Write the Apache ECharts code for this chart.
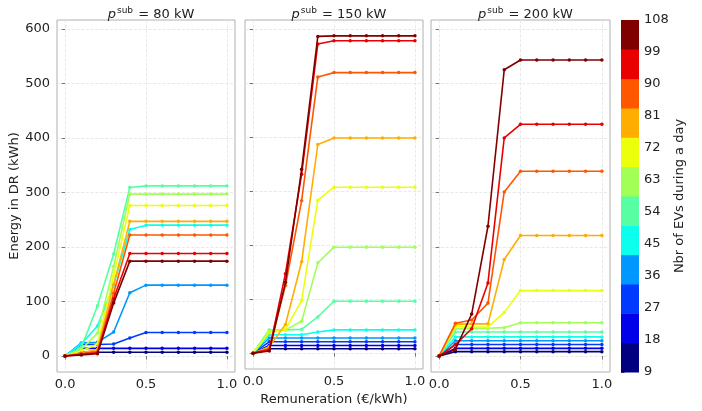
<!DOCTYPE html>
<html><head><meta charset="utf-8">
<script src="https://cdn.jsdelivr.net/npm/echarts@6/dist/echarts.min.js"></script>
<style>html,body{margin:0;padding:0;background:#fff}#c{width:702px;height:411px}</style>
</head><body><div id="c"></div>
<script>
// Remuneration values (x)
const X = [0.0, 0.1, 0.2, 0.3, 0.4, 0.5, 0.6, 0.7, 0.8, 0.9, 1.0];
// Number of EVs per day (one line each), and their colours (jet)
const EV_COUNTS = [9, 18, 27, 36, 45, 54, 63, 72, 81, 90, 99, 108];
const EV_COLORS = ['#000080','#0000e9','#003aff','#0097ff','#0bffec','#56ffa1','#a1ff56','#ecff0b','#ffad00','#ff5700','#e90000','#800000'];
// Panel titles (p_sub in kW)
const P_SUB = ['80', '150', '200'];
// Ticks
const Y_TICKS = [0, 100, 200, 300, 400, 500, 600];
const X_TICKS = [0.0, 0.5, 1.0];

// Energy in DR (kWh), one row per EV count, p_sub = 80 kW
const P80 = [
  [0, 7, 7, 7, 7, 7, 7, 7, 7, 7, 7],
  [0, 14, 14, 14, 14, 14, 14, 14, 14, 14, 14],
  [0, 21, 21, 22, 33, 43, 43, 43, 43, 43, 43],
  [0, 24, 25, 44, 116, 130, 130, 130, 130, 130, 130],
  [0, 22, 55, 130, 232, 240, 240, 240, 240, 240, 240],
  [0, 15, 92, 187, 309, 312, 312, 312, 312, 312, 312],
  [0, 12, 42, 164, 297, 297, 297, 297, 297, 297, 297],
  [0, 9, 22, 147, 276, 276, 276, 276, 276, 276, 276],
  [0, 6, 12, 131, 247, 247, 247, 247, 247, 247, 247],
  [0, 4, 8, 115, 222, 222, 222, 222, 222, 222, 222],
  [0, 3, 6, 105, 188, 188, 188, 188, 188, 188, 188],
  [0, 2, 4, 97, 174, 174, 174, 174, 174, 174, 174]
];
// p_sub = 150 kW
const P150 = [
  [0, 8, 8, 8, 8, 8, 8, 8, 8, 8, 8],
  [0, 14, 14, 14, 14, 14, 14, 14, 14, 14, 14],
  [0, 21, 21, 21, 21, 21, 21, 21, 21, 21, 21],
  [0, 28, 28, 28, 28, 28, 28, 28, 28, 28, 28],
  [0, 34, 34, 34, 39, 43, 43, 43, 43, 43, 43],
  [0, 43, 43, 44, 67, 96, 96, 96, 96, 96, 96],
  [0, 43, 43, 59, 167, 196, 196, 196, 196, 196, 196],
  [0, 38, 44, 97, 283, 307, 307, 307, 307, 307, 307],
  [0, 12, 53, 169, 386, 398, 398, 398, 398, 398, 398],
  [0, 8, 125, 282, 511, 519, 519, 519, 519, 519, 519],
  [0, 6, 147, 331, 572, 578, 578, 578, 578, 578, 578],
  [0, 4, 131, 340, 586, 587, 587, 587, 587, 587, 587]
];
// p_sub = 200 kW
const P200 = [
  [0, 8, 8, 8, 8, 8, 8, 8, 8, 8, 8],
  [0, 14, 14, 14, 14, 14, 14, 14, 14, 14, 14],
  [0, 21, 21, 21, 21, 21, 21, 21, 21, 21, 21],
  [0, 28, 28, 28, 28, 28, 28, 28, 28, 28, 28],
  [0, 35, 35, 35, 35, 35, 35, 35, 35, 35, 35],
  [0, 44, 44, 44, 44, 44, 44, 44, 44, 44, 44],
  [0, 50, 50, 51, 52, 61, 61, 61, 61, 61, 61],
  [0, 54, 53, 53, 80, 120, 120, 120, 120, 120, 120],
  [0, 58, 59, 59, 177, 221, 221, 221, 221, 221, 221],
  [0, 60, 66, 97, 301, 339, 339, 339, 339, 339, 339],
  [0, 21, 50, 134, 400, 425, 425, 425, 425, 425, 425],
  [0, 12, 77, 238, 525, 543, 543, 543, 543, 543, 543]
];
const PANELS = [P80, P150, P200];

const FONT = 'DejaVu Sans';
const TXT = '#222';
const GRIDS = [
  {left: 57, top: 20, width: 178, height: 352},
  {left: 245, top: 20, width: 178, height: 352},
  {left: 431, top: 20, width: 179, height: 352}
];

const chart = echarts.init(document.getElementById('c'), null, {renderer: 'canvas'});

const grid = GRIDS.map(g => Object.assign({show: true, borderColor: '#b0b0b0', borderWidth: 1, backgroundColor: 'transparent', containLabel: false}, g));
grid.push({left: 621, top: 20, width: 18, height: 352, show: false});

const xAxis = GRIDS.map((g, p) => ({
  type: 'value', gridIndex: p, min: -0.05, max: 1.05,
  axisLine: {show: false},
  axisTick: {show: true, customValues: X_TICKS, length: 3.5, lineStyle: {color: '#555', width: 0.8}},
  axisLabel: {show: true, customValues: X_TICKS, margin: 6, fontFamily: FONT, fontSize: 13, color: TXT,
    formatter: v => v.toFixed(1)},
  splitLine: {show: true, lineStyle: {color: '#e3e3e3', type: 'dashed', width: 0.8}},
  name: p === 1 ? 'Remuneration (€/kWh)' : '',
  nameLocation: 'middle', nameGap: 24,
  nameTextStyle: {fontFamily: FONT, fontSize: 13, color: TXT}
}));
xAxis.push({type: 'value', gridIndex: 3, min: 0, max: 1, show: false});

const yAxis = GRIDS.map((g, p) => ({
  type: 'value', gridIndex: p, min: -29.35, max: 616.35,
  axisLine: {show: false},
  axisTick: {show: true, customValues: Y_TICKS, length: 3.5, lineStyle: {color: '#555', width: 0.8}},
  axisLabel: {show: p === 0, customValues: Y_TICKS, margin: 7, fontFamily: FONT, fontSize: 13, color: TXT},
  splitLine: {show: true, lineStyle: {color: '#e3e3e3', type: 'dashed', width: 0.8}},
  name: p === 0 ? 'Energy in DR (kWh)' : '',
  nameLocation: 'middle', nameGap: 27,
  nameTextStyle: {fontFamily: FONT, fontSize: 13, color: TXT}
}));
yAxis.push({
  type: 'value', gridIndex: 3, min: 9, max: 108, position: 'right',
  axisLine: {show: false},
  axisTick: {show: true, customValues: EV_COUNTS, length: 3.5, lineStyle: {color: '#222', width: 0.8}},
  axisLabel: {show: true, customValues: EV_COUNTS, margin: 5, fontFamily: FONT, fontSize: 13, color: TXT},
  splitLine: {show: false},
  name: 'Nbr of EVs during a day', nameLocation: 'middle', nameGap: 34, nameRotate: 90,
  nameTextStyle: {fontFamily: FONT, fontSize: 13, color: TXT}
});

const series = [];
PANELS.forEach((panel, p) => {
  panel.forEach((row, i) => {
    series.push({
      type: 'line', xAxisIndex: p, yAxisIndex: p,
      data: X.map((x, k) => [x, row[k]]),
      symbol: 'circle', symbolSize: 3.5, showSymbol: true,
      lineStyle: {color: EV_COLORS[i], width: 1.6},
      itemStyle: {color: EV_COLORS[i]},
      emphasis: {disabled: true},
      animation: false, z: 2 + i
    });
  });
});

const STEP = (EV_COUNTS[EV_COUNTS.length - 1] - EV_COUNTS[0]) / EV_COUNTS.length;
series.push({
  type: 'custom', xAxisIndex: 3, yAxisIndex: 3,
  data: EV_COUNTS.map((v, i) => [i]),
  renderItem: (params, api) => {
    const i = api.value(0);
    const lo = EV_COUNTS[0] + i * STEP, hi = lo + STEP;
    const a = api.coord([0, lo]), b = api.coord([1, hi]);
    return {type: 'rect', shape: {x: a[0], y: b[1], width: b[0] - a[0], height: a[1] - b[1] + 0.5},
      style: {fill: EV_COLORS[i]}};
  },
  animation: false, silent: true
});

const title = GRIDS.map((g, p) => ({
  text: '{i|p}{s|sub}{n| = ' + P_SUB[p] + ' kW}',
  left: g.left + g.width / 2, textAlign: 'center', top: 0,
  textStyle: {
    fontWeight: 'normal',
    rich: {
      i: {fontFamily: FONT, fontSize: 13, fontStyle: 'italic', fontWeight: 'normal', color: TXT, lineHeight: 16, verticalAlign: 'bottom'},
      s: {fontFamily: FONT, fontSize: 9, fontWeight: 'normal', color: TXT, lineHeight: 10, padding: [0, 1, 6, 1], verticalAlign: 'bottom'},
      n: {fontFamily: FONT, fontSize: 13, fontWeight: 'normal', color: TXT, lineHeight: 16, verticalAlign: 'bottom'}
    }
  }
}));

chart.setOption({
  animation: false,
  backgroundColor: '#fff',
  title, grid, xAxis, yAxis, series
});
</script>
</body></html>
